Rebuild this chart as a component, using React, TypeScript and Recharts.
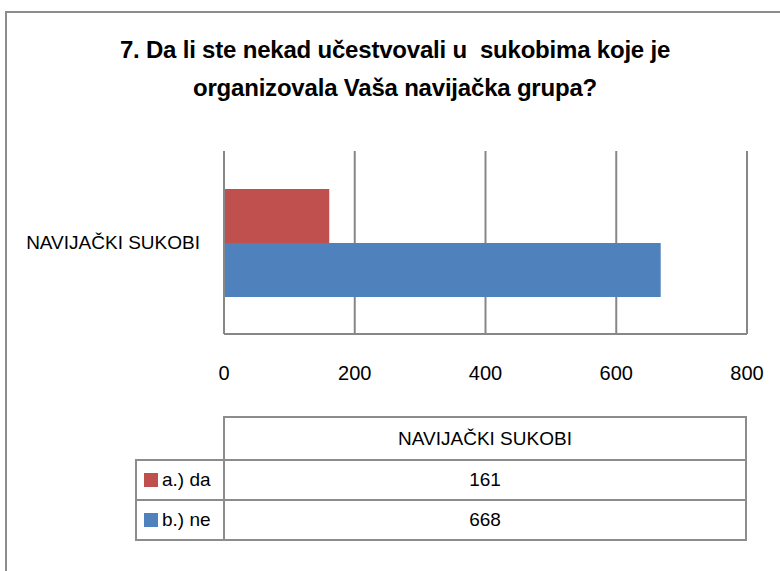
import React from "react";
import { BarChart, Bar, XAxis, YAxis, CartesianGrid } from "recharts";

const categories = ["NAVIJAČKI SUKOBI"];
const seriesNames = ["a.) da", "b.) ne"];
const seriesColors = ["#C0504D", "#4F81BD"];
const valuesDa = [161];
const valuesNe = [668];
const xTicks = [0, 200, 400, 600, 800];
const titleLines = [
  "7. Da li ste nekad učestvovali u  sukobima koje je",
  "organizovala Vaša navijačka grupa?",
];

const data = categories.map((c, i) => ({ name: c, da: valuesDa[i], ne: valuesNe[i] }));
const seriesValues = [valuesDa, valuesNe];

const FONT = '"Liberation Sans", Arial, sans-serif';
const GRID = "#878787";

export default function App() {
  return (
    <div
      style={{
        position: "absolute",
        left: 0,
        top: 0,
        width: 780,
        height: 571,
        overflow: "hidden",
        background: "#fff",
        fontFamily: FONT,
        color: "#000",
      }}
    >
      <div
        style={{
          position: "absolute",
          left: 5,
          top: 11,
          width: 800,
          height: 600,
          border: "2px solid #8c8c8c",
          boxSizing: "border-box",
        }}
      />
      {titleLines.map((t, i) => (
        <div
          key={i}
          style={{
            position: "absolute",
            left: 0,
            width: 790,
            top: 36 + i * 38,
            textAlign: "center",
            fontWeight: "bold",
            fontSize: 24,
            lineHeight: "28px",
            whiteSpace: "pre",
            letterSpacing: -0.2,
          }}
        >
          {t}
        </div>
      ))}
      <div style={{ position: "absolute", left: 0, top: 0 }}>
        <BarChart
          width={780}
          height={400}
          data={data}
          layout="vertical"
          margin={{ top: 151, right: 33, left: 0, bottom: 0 }}
          barGap={0}
          barSize={54}
          style={{ fontFamily: FONT }}
        >
          <CartesianGrid horizontal={false} vertical={true} stroke={GRID} strokeWidth={2} />
          <XAxis
            type="number"
            domain={[0, 800]}
            ticks={xTicks}
            height={66}
            axisLine={{ stroke: GRID, strokeWidth: 2 }}
            tickLine={false}
            tickSize={0}
            tickMargin={32}
            tick={{ fill: "#000", fontSize: 20 }}
            interval={0}
          />
          <YAxis
            type="category"
            dataKey="name"
            width={224}
            axisLine={{ stroke: GRID, strokeWidth: 2 }}
            tickLine={false}
            tickSize={0}
            tickMargin={24}
            tick={{ fill: "#000", fontSize: 19 }}
          />
          <Bar dataKey="da" name={seriesNames[0]} fill={seriesColors[0]} isAnimationActive={false} />
          <Bar dataKey="ne" name={seriesNames[1]} fill={seriesColors[1]} isAnimationActive={false} />
        </BarChart>
      </div>
      {/* data table */}
      <div
        style={{
          position: "absolute",
          left: 223,
          top: 416,
          width: 524,
          height: 45,
          border: "2px solid #8c8c8c",
          boxSizing: "border-box",
          display: "flex",
          alignItems: "center",
          justifyContent: "center",
          fontSize: 19,
        }}
      >
        {categories[0]}
      </div>
      {seriesNames.map((s, i) => (
        <React.Fragment key={s}>
          <div
            style={{
              position: "absolute",
              left: 135,
              top: 459 + i * 40,
              width: 90,
              height: 42,
              border: "2px solid #8c8c8c",
              boxSizing: "border-box",
              display: "flex",
              alignItems: "center",
              fontSize: 19,
              whiteSpace: "nowrap",
            }}
          >
            <span
              style={{
                display: "inline-block",
                width: 14,
                height: 14,
                background: seriesColors[i],
                marginLeft: 7,
                marginRight: 4,
                flexShrink: 0,
              }}
            />
            {s}
          </div>
          <div
            style={{
              position: "absolute",
              left: 223,
              top: 459 + i * 40,
              width: 524,
              height: 42,
              border: "2px solid #8c8c8c",
              boxSizing: "border-box",
              display: "flex",
              alignItems: "center",
              justifyContent: "center",
              fontSize: 19,
            }}
          >
            {seriesValues[i][0]}
          </div>
        </React.Fragment>
      ))}
    </div>
  );
}
